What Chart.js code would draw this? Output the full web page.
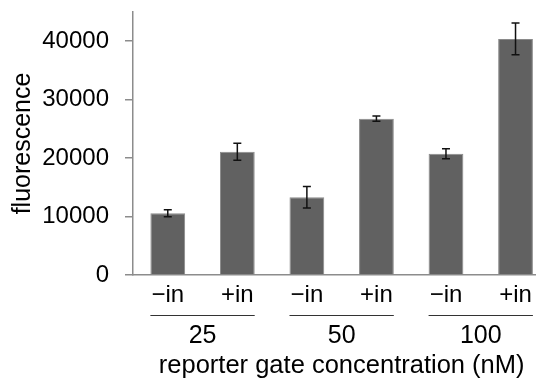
<!DOCTYPE html>
<html>
<head>
<meta charset="utf-8">
<script src="https://cdn.jsdelivr.net/npm/chart.js@4"></script>
<style>
  html, body { margin: 0; padding: 0; background: #fff; }
  #wrap { width: 542px; height: 379px; }
</style>
</head>
<body>
<div id="wrap"><canvas id="fluoChart" width="542" height="379"></canvas></div>
<script>
// bars: -in / +in for each reporter gate concentration
const barLabels = ['\u2212in', '+in', '\u2212in', '+in', '\u2212in', '+in'];
const groupLabels = ['25', '50', '100'];
const xTitle = 'reporter gate concentration (nM)';
const fluorescence = [10550, 21100, 13300, 26750, 20750, 40400];
const errors = [600, 1450, 1850, 450, 850, 2700];
const yTicks = [0, 10000, 20000, 30000, 40000];
const xPositions = barLabels.map((_, i) => i);

const FONT = "Arial, 'Liberation Sans', sans-serif";

// error bars on top of each bar
const errorBarPlugin = {
    id: 'errorBars',
    afterDatasetsDraw(chart) {
        const ctx = chart.ctx;
        const x = chart.scales.x, y = chart.scales.y;
        ctx.save();
        ctx.strokeStyle = '#111';
        ctx.lineWidth = 1.5;
        fluorescence.forEach((v, i) => {
            const px = x.getPixelForValue(xPositions[i]);
            const top = y.getPixelForValue(v + errors[i]);
            const bot = y.getPixelForValue(v - errors[i]);
            ctx.beginPath();
            ctx.moveTo(px, top); ctx.lineTo(px, bot);
            ctx.moveTo(px - 4, top); ctx.lineTo(px + 4, top);
            ctx.moveTo(px - 4, bot); ctx.lineTo(px + 4, bot);
            ctx.stroke();
        });
        ctx.restore();
    }
};

// group underline + concentration labels + axis title centred under the bars
const groupPlugin = {
    id: 'groups',
    afterDraw(chart) {
        const ctx = chart.ctx;
        const meta = chart.getDatasetMeta(0);
        const base = chart.chartArea.bottom;
        ctx.save();
        ctx.strokeStyle = '#333';
        ctx.lineWidth = 1;
        ctx.fillStyle = '#000';
        ctx.font = '25px ' + FONT;
        ctx.textAlign = 'center';
        ctx.textBaseline = 'middle';
        groupLabels.forEach((g, k) => {
            const a = meta.data[2 * k], b = meta.data[2 * k + 1];
            const left = a.x - a.width / 2, right = b.x + b.width / 2;
            ctx.beginPath();
            ctx.moveTo(left, base + 40.5);
            ctx.lineTo(right, base + 40.5);
            ctx.stroke();
            ctx.fillText(g, (left + right) / 2, base + 61);
        });
        const first = meta.data[0], last = meta.data[meta.data.length - 1];
        const mid = ((first.x - first.width / 2) + (last.x + last.width / 2)) / 2;
        ctx.font = '25.5px ' + FONT;
        ctx.fillText(xTitle, mid, base + 91);
        ctx.restore();
    }
};

new Chart(document.getElementById('fluoChart'), {
    type: 'bar',
    data: {
        datasets: [{
            data: fluorescence.map((v, i) => ({ x: xPositions[i], y: v })),
            backgroundColor: '#616161',
            borderColor: '#8a8a8a',
            borderWidth: 1,
            categoryPercentage: 1,
            barPercentage: 0.5
        }]
    },
    options: {
        responsive: false,
        animation: false,
        layout: { padding: { left: 0, right: 7, top: 0, bottom: 0 } },
        plugins: { legend: { display: false }, tooltip: { enabled: false } },
        scales: {
            x: {
                type: 'linear',
                min: -0.5,
                max: 5.28,
                offset: false,
                afterBuildTicks: s => { s.ticks = xPositions.map(v => ({ value: v })); },
                afterFit: s => { s.height = 104; },
                ticks: {
                    callback: v => barLabels[v],
                    color: '#000',
                    font: { family: FONT, size: 24 },
                    padding: 6,
                    maxRotation: 0,
                    autoSkip: false
                },
                grid: { display: false, drawTicks: false },
                border: { color: '#8c8c8c', width: 1.5 }
            },
            y: {
                min: 0,
                max: 45000,
                afterBuildTicks: s => { s.ticks = yTicks.map(v => ({ value: v })); },
                afterFit: s => { s.width = 133; s.paddingTop = 12; },
                ticks: {
                    callback: v => String(v),
                    color: '#000',
                    font: { family: FONT, size: 24 },
                    padding: 16
                },
                grid: { display: true, drawOnChartArea: false, tickLength: 8, color: '#8c8c8c', lineWidth: 1.5 },
                border: { color: '#8c8c8c', width: 1.5 },
                title: {
                    display: true,
                    text: 'fluorescence',
                    color: '#000',
                    font: { family: FONT, size: 25 },
                    padding: { top: 8, bottom: 4 }
                }
            }
        }
    },
    plugins: [errorBarPlugin, groupPlugin]
});
</script>
</body>
</html>
